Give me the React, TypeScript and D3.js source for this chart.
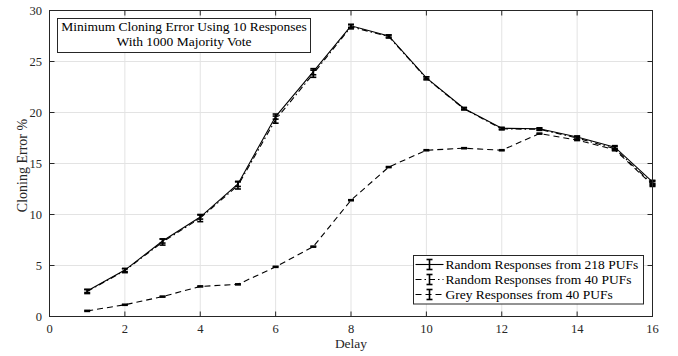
import React from "react";
import * as d3 from "d3";

const delays = [1, 2, 3, 4, 5, 6, 7, 8, 9, 10, 11, 12, 13, 14, 15, 16];
const random218 = [2.5, 4.55, 7.4, 9.75, 13.0, 19.6, 24.0, 28.5, 27.5, 23.4, 20.4, 18.45, 18.4, 17.6, 16.6, 13.2];
const err218 = [0.15, 0.15, 0.2, 0.2, 0.25, 0.25, 0.3, 0.15, 0.1, 0.1, 0.1, 0.1, 0.1, 0.1, 0.15, 0.15];
const random40 = [2.45, 4.5, 7.3, 9.65, 12.85, 19.3, 23.8, 28.4, 27.45, 23.35, 20.35, 18.4, 18.35, 17.5, 16.45, 13.0];
const err40 = [0.2, 0.2, 0.3, 0.35, 0.35, 0.35, 0.35, 0.2, 0.15, 0.15, 0.1, 0.1, 0.1, 0.15, 0.2, 0.25];
const grey40 = [0.55, 1.15, 1.95, 2.95, 3.15, 4.87, 6.85, 11.4, 14.65, 16.3, 16.5, 16.3, 17.93, 17.3, 16.35, 12.9];
const errGrey = [0.05, 0.05, 0.05, 0.05, 0.05, 0.05, 0.05, 0.05, 0.05, 0.05, 0.05, 0.05, 0.05, 0.05, 0.05, 0.05];
const xTicks = [0, 2, 4, 6, 8, 10, 12, 14, 16];
const yTicks = [0, 5, 10, 15, 20, 25, 30];
const seriesNames = [
  "Random Responses from 218 PUFs",
  "Random Responses from 40 PUFs",
  "Grey Responses from 40 PUFs",
];
const titleLines = ["Minimum Cloning Error Using 10 Responses", "With 1000 Majority Vote"];
const xLabel = "Delay";
const yLabel = "Cloning Error %";

const W = 678;
const H = 356;
const FONT = "'Liberation Serif', 'Times New Roman', serif";

export default function App() {
  const x = d3.scaleLinear().domain([0, 16]).range([49.5, 652.5]);
  const y = d3.scaleLinear().domain([0, 30]).range([316.5, 10.5]);
  const line = d3
    .line<[number, number]>()
    .x((d) => x(d[0]))
    .y((d) => y(d[1]));

  const series = [
    { vals: random218, errs: err218, dash: "none" },
    { vals: random40, errs: err40, dash: "6 3 1.5 3" },
    { vals: grey40, errs: errGrey, dash: "6 4" },
  ];

  const [x0, x1] = x.range();
  const [y0, y1] = y.range();
  const axisColor = "#262626";
  const tick = 5;

  const legX = 413.5;
  const legY = 255.5;
  const legW = 230;
  const legH = 48.5;
  const rowH = 15;

  return (
    <svg
      width={W}
      height={H}
      style={{ position: "absolute", left: 0, top: 0, background: "#fff", fontFamily: FONT }}
    >
      <rect x={0} y={0} width={W} height={H} fill="#fff" />
      {/* grid */}
      {xTicks.map((t) => (
        <line key={"gx" + t} x1={x(t)} x2={x(t)} y1={y0} y2={y1} stroke="#e3e3e3" strokeWidth={1} />
      ))}
      {yTicks.map((t) => (
        <line key={"gy" + t} x1={x0} x2={x1} y1={y(t)} y2={y(t)} stroke="#e3e3e3" strokeWidth={1} />
      ))}

      {/* series */}
      {series.map((s, i) => (
        <g key={"s" + i}>
          <path
            d={line(delays.map((d, j) => [d, s.vals[j]] as [number, number])) || ""}
            fill="none"
            stroke="#000"
            strokeWidth={1.1}
            strokeDasharray={s.dash}
          />
          {delays.map((d, j) => {
            const cx = x(d);
            const lo = y(s.vals[j] - s.errs[j]);
            const hi = y(s.vals[j] + s.errs[j]);
            return (
              <g key={j} stroke="#000" strokeWidth={1.6}>
                <line x1={cx} x2={cx} y1={lo} y2={hi} />
                <line x1={cx - 3} x2={cx + 3} y1={lo} y2={lo} />
                <line x1={cx - 3} x2={cx + 3} y1={hi} y2={hi} />
              </g>
            );
          })}
        </g>
      ))}

      {/* axes box */}
      <rect x={x0} y={y1} width={x1 - x0} height={y0 - y1} fill="none" stroke={axisColor} strokeWidth={1} />
      {xTicks.map((t) => (
        <g key={"tx" + t} stroke={axisColor}>
          <line x1={x(t)} x2={x(t)} y1={y0} y2={y0 - tick} />
          <line x1={x(t)} x2={x(t)} y1={y1} y2={y1 + tick} />
        </g>
      ))}
      {yTicks.map((t) => (
        <g key={"ty" + t} stroke={axisColor}>
          <line x1={x0} x2={x0 + tick} y1={y(t)} y2={y(t)} />
          <line x1={x1} x2={x1 - tick} y1={y(t)} y2={y(t)} />
        </g>
      ))}
      {xTicks.map((t) => (
        <text key={"lx" + t} x={x(t)} y={332.5} textAnchor="middle" fontSize={12.5} fill={axisColor}>
          {t}
        </text>
      ))}
      {yTicks.map((t) => (
        <text key={"ly" + t} x={42} y={y(t) + 4.3} textAnchor="end" fontSize={12.5} fill={axisColor}>
          {t}
        </text>
      ))}
      <text x={351} y={348} textAnchor="middle" fontSize={13.5} fill={axisColor}>
        {xLabel}
      </text>
      <text
        transform={`translate(26.5, 165.5) rotate(-90)`}
        textAnchor="middle"
        fontSize={14}
        fill={axisColor}
      >
        {yLabel}
      </text>

      {/* title box */}
      <rect x={57.5} y={18.5} width={253} height={34} fill="#fff" stroke={axisColor} strokeWidth={1} />
      {titleLines.map((t, i) => (
        <text key={"t" + i} x={184} y={31 + i * 15} textAnchor="middle" fontSize={13.5} fill="#000">
          {t}
        </text>
      ))}

      {/* legend */}
      <rect x={legX} y={legY} width={legW} height={legH} fill="#fff" stroke={axisColor} strokeWidth={1} />
      {series.map((s, i) => {
        const ry = legY + 9 + i * rowH;
        return (
          <g key={"lg" + i}>
            <line x1={legX + 2} x2={legX + 30} y1={ry} y2={ry} stroke="#000" strokeWidth={1.1} strokeDasharray={s.dash} />
            <g stroke="#000" strokeWidth={1.6}>
              <line x1={legX + 16} x2={legX + 16} y1={ry - 5} y2={ry + 5} />
              <line x1={legX + 13} x2={legX + 19} y1={ry - 5} y2={ry - 5} />
              <line x1={legX + 13} x2={legX + 19} y1={ry + 5} y2={ry + 5} />
            </g>
            <text x={legX + 32} y={ry + 4.5} fontSize={13.5} fill="#000">
              {seriesNames[i]}
            </text>
          </g>
        );
      })}
    </svg>
  );
}
